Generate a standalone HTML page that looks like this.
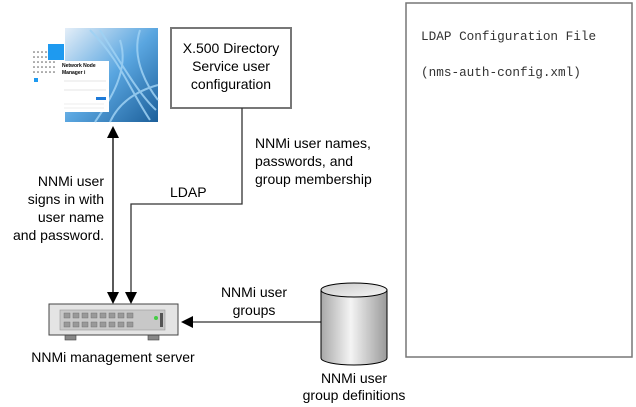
<!DOCTYPE html>
<html><head><style>
html,body{margin:0;padding:0;background:#fff;width:636px;height:407px;overflow:hidden}
svg text{font-family:"Liberation Sans",Arial,sans-serif;font-size:14px;fill:#000}
</style></head><body>
<svg width="636" height="407" xmlns="http://www.w3.org/2000/svg">
<defs>
<linearGradient id="cyl" x1="0" x2="1"><stop offset="0" stop-color="#a8a8a8"/><stop offset="0.45" stop-color="#f4f4f4"/><stop offset="1" stop-color="#9a9a9a"/></linearGradient>
<linearGradient id="top" x1="0" x2="1" y1="0" y2="1"><stop offset="0" stop-color="#c8c8c8"/><stop offset="1" stop-color="#f8f8f8"/></linearGradient>
<linearGradient id="pic" x1="0" x2="1" y1="0" y2="1"><stop offset="0" stop-color="#e4eef8"/><stop offset="0.5" stop-color="#5aa6e0"/><stop offset="1" stop-color="#1c5f9a"/></linearGradient>
</defs>
<rect x="65" y="28" width="93" height="94" fill="url(#pic)"/>
<g stroke="#9fd2f4" stroke-width="2" fill="none" opacity="0.85">
<path d="M90 30 C120 60 130 90 150 120"/><path d="M100 30 C125 70 140 95 156 110"/><path d="M120 40 C130 70 110 100 95 122"/><path d="M140 30 C130 60 150 90 158 100"/><path d="M110 122 C120 100 140 90 158 85"/>
</g>
<rect x="48" y="44" width="16" height="16" fill="#1e9af0"/>
<g fill="#555"><circle cx="34" cy="52" r="0.8"/><circle cx="38" cy="52" r="0.8"/><circle cx="42" cy="52" r="0.8"/><circle cx="46" cy="52" r="0.8"/><circle cx="34" cy="57" r="0.8"/><circle cx="38" cy="57" r="0.8"/><circle cx="42" cy="57" r="0.8"/><circle cx="46" cy="57" r="0.8"/><circle cx="34" cy="62" r="0.8"/><circle cx="38" cy="62" r="0.8"/><circle cx="42" cy="62" r="0.8"/><circle cx="46" cy="62" r="0.8"/><circle cx="50" cy="62" r="0.8"/><circle cx="54" cy="62" r="0.8"/><circle cx="34" cy="67" r="0.8"/><circle cx="38" cy="67" r="0.8"/><circle cx="42" cy="67" r="0.8"/><circle cx="46" cy="67" r="0.8"/><circle cx="50" cy="67" r="0.8"/><circle cx="54" cy="67" r="0.8"/><circle cx="34" cy="72" r="0.8"/><circle cx="38" cy="72" r="0.8"/><circle cx="42" cy="72" r="0.8"/><circle cx="46" cy="72" r="0.8"/><circle cx="50" cy="72" r="0.8"/><circle cx="54" cy="72" r="0.8"/></g>
<rect x="34" y="78" width="4" height="4" fill="#1e9af0"/>
<rect x="61" y="61" width="48" height="51" fill="#fff"/>
<text x="62" y="67" style="font-size:5px;font-weight:bold">Network Node</text>
<text x="62" y="74" style="font-size:5px;font-weight:bold">Manager i</text>
<line x1="64" y1="81" x2="106" y2="81" stroke="#ccc" stroke-width="0.6"/>
<line x1="64" y1="90" x2="106" y2="90" stroke="#ccc" stroke-width="0.6"/>
<rect x="96" y="97" width="10" height="3" fill="#1e7ad8"/>
<line x1="64" y1="104" x2="104" y2="104" stroke="#ddd" stroke-width="0.6"/>
<line x1="64" y1="108" x2="104" y2="108" stroke="#ddd" stroke-width="0.6"/>
<rect x="171" y="28" width="120" height="80" fill="#fff" stroke="#777" stroke-width="2"/>
<text x="231" y="53" text-anchor="middle">X.500 Directory</text>
<text x="231" y="71" text-anchor="middle">Service user</text>
<text x="231" y="89" text-anchor="middle">configuration</text>
<polyline points="242,108 242,204 131,204 131,296" fill="none" stroke="#333" stroke-width="1.3"/>
<polygon points="125,292 137,292 131,304" fill="#000"/>
<text x="170" y="197">LDAP</text>
<text x="255" y="148">NNMi user names,</text>
<text x="255" y="166">passwords, and</text>
<text x="255" y="184">group membership</text>
<line x1="113" y1="134" x2="113" y2="296" stroke="#000" stroke-width="1.3"/>
<polygon points="107,138 119,138 113,126" fill="#000"/>
<polygon points="107,292 119,292 113,304" fill="#000"/>
<text x="104" y="186" text-anchor="end">NNMi user</text>
<text x="104" y="204" text-anchor="end">signs in with</text>
<text x="104" y="222" text-anchor="end">user name</text>
<text x="104" y="240" text-anchor="end">and password.</text>
<rect x="65" y="335" width="11" height="5" fill="#888" stroke="#444" stroke-width="0.6"/>
<rect x="148" y="335" width="11" height="5" fill="#888" stroke="#444" stroke-width="0.6"/>
<rect x="49" y="304" width="129" height="31" fill="#e4e4e4" stroke="#444" stroke-width="1"/>
<rect x="60" y="310" width="105" height="20" fill="#c8c8c8" stroke="#999" stroke-width="0.6"/>
<g fill="#999" stroke="#666" stroke-width="0.4">
<rect x="64" y="313" width="6" height="5"/><rect x="73" y="313" width="6" height="5"/><rect x="82" y="313" width="6" height="5"/><rect x="91" y="313" width="6" height="5"/><rect x="100" y="313" width="6" height="5"/><rect x="109" y="313" width="6" height="5"/><rect x="118" y="313" width="6" height="5"/><rect x="127" y="313" width="6" height="5"/>
<rect x="64" y="322" width="6" height="5"/><rect x="73" y="322" width="6" height="5"/><rect x="82" y="322" width="6" height="5"/><rect x="91" y="322" width="6" height="5"/><rect x="100" y="322" width="6" height="5"/><rect x="109" y="322" width="6" height="5"/><rect x="118" y="322" width="6" height="5"/><rect x="127" y="322" width="6" height="5"/>
</g>
<circle cx="156" cy="318" r="2" fill="#4c4"/>
<rect x="160" y="313" width="3" height="14" fill="#555"/>
<text x="113" y="362" text-anchor="middle">NNMi management server</text>
<line x1="190" y1="322" x2="321" y2="322" stroke="#333" stroke-width="1.3"/>
<polygon points="181,322 193,316 193,328" fill="#000"/>
<text x="254" y="297" text-anchor="middle">NNMi user</text>
<text x="254" y="315" text-anchor="middle">groups</text>
<path d="M321 290 L321 358 A33 7 0 0 0 387 358 L387 290" fill="url(#cyl)" stroke="#000" stroke-width="1"/>
<ellipse cx="354" cy="290" rx="33" ry="7" fill="url(#top)" stroke="#000" stroke-width="1"/>
<text x="354" y="383" text-anchor="middle">NNMi user</text>
<text x="354" y="400" text-anchor="middle">group definitions</text>
<rect x="406" y="3" width="226" height="354" fill="#fff" stroke="#777" stroke-width="1.5"/>
<text x="421" y="40" style="font-family:'Liberation Mono',monospace;font-size:12.7px;fill:#333">LDAP Configuration File</text>
<text x="421" y="76" style="font-family:'Liberation Mono',monospace;font-size:12.7px;fill:#333">(nms-auth-config.xml)</text>
</svg>
</body></html>
